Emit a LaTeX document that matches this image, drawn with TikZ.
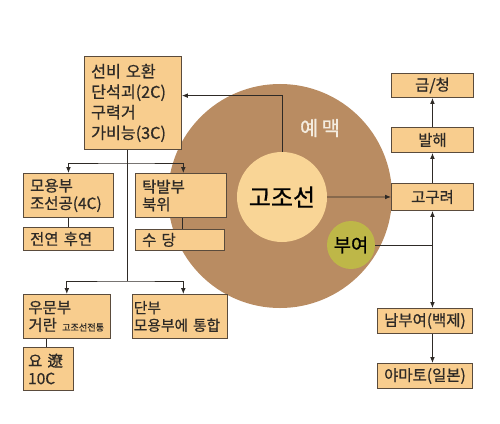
\documentclass[tikz,border=0pt]{standalone}
\usepackage{fontspec}
\setmainfont{Noto Sans CJK KR}[FakeBold=0.7]
\usetikzlibrary{arrows.meta, calc}
\definecolor{boxfill}{HTML}{F8CD8E}
\definecolor{boxline}{HTML}{5A4B3C}
\definecolor{wirecol}{HTML}{2E2A26}
\definecolor{yemaekfill}{HTML}{B98C62}
\definecolor{gojofill}{HTML}{F9D596}
\definecolor{buyeofill}{HTML}{BEB748}
\definecolor{yemaektext}{HTML}{F4ECDF}
\tikzset{
    box/.style={draw=boxline, fill=boxfill, line width=0.8pt, inner sep=0pt, anchor=north west,
        text=wirecol, font=\fontsize{13.2pt}{15pt}\selectfont},
    cbox/.style 2 args={box, minimum width=#1, minimum height=#2},
    lbox/.style 2 args={box, inner xsep=0.2cm, text width=#1, minimum height=#2, align=left},
    wire/.style={draw=wirecol, line width=0.8pt},
    arr/.style={wire, -{Latex[length=5pt,width=4pt]}},
    darr/.style={wire, {Latex[length=5pt,width=4pt]}-{Latex[length=5pt,width=4pt]}},
}
\begin{document}
\begin{tikzpicture}[x=0.03cm, y=-0.03cm]
        \useasboundingbox (0,0) rectangle (500,424);
        \node[circle, fill=yemaekfill, minimum size=6.72cm, inner sep=0pt] (yemaek) at (280,196) {};
        \node[text=yemaektext, font=\fontsize{17pt}{17pt}\selectfont] (yemaeklabel) at (320,128) {예\,맥};
        \node[circle, fill=gojofill, minimum size=2.7cm, inner sep=0pt, font=\fontsize{20.5pt}{20pt}\selectfont] (gojoseon) at (282,197) {고조선};
        \node[circle, fill=buyeofill, minimum size=1.44cm, inner sep=0pt, font=\fontsize{16pt}{16pt}\selectfont] (buyeo) at (351,245) {부여};
        %
        \node[lbox={2.51cm}{2.79cm}, font=\fontsize{13pt}{17.5pt}\selectfont] (seonbi) at (84,56) {\fontsize{13.8pt}{17.5pt}\selectfont 선비 오환\\단석괴(2C)\\구력거\\가비능(3C)};
        \node[lbox={2.3cm}{1.32cm}] (moyong) at (23,173) {모용부\\조선공(4C)};
        \node[lbox={2.3cm}{0.69cm}] (jeonyeon) at (23,227) {전연 후연};
        \node[lbox={2.33cm}{1.32cm}] (takbal) at (135,173) {탁발부\\북위};
        \node[lbox={2.27cm}{0.63cm}] (sudang) at (135,229) {수 당};
        \node[lbox={2.3cm}{1.32cm}, inner xsep=0.15cm] (umun) at (23,294) {우문부\\거란 {\fontsize{7.8pt}{8pt}\selectfont 고조선전통}};
        \node[lbox={2.77cm}{1.32cm}, inner xsep=0.04cm, font=\fontsize{12.6pt}{15pt}\selectfont] (danbu) at (132,294) {단부\\모용부에 통합};
        \node[lbox={1.23cm}{1.29cm}, inner xsep=0.14cm] (yo) at (23,347) {요 遼\\10C};
        %
        \node[cbox={2.46cm}{0.72cm}] (geum) at (391,73) {금/청};
        \node[cbox={2.46cm}{0.75cm}] (balhae) at (391,127) {발해};
        \node[cbox={2.46cm}{0.81cm}] (goguryeo) at (391,183) {고구려};
        \node[cbox={2.85cm}{0.75cm}] (nambuyeo) at (377,308) {남부여(백제)};
        \node[cbox={2.85cm}{0.75cm}] (yamato) at (377,363) {야마토(일본)};
        %
        \coordinate (split1) at (127,163);
        \coordinate (split2) at (127,281);
        \draw[arr] (gojoseon.north) |- ([yshift=0.22cm]seonbi.east);
        \draw[wire] (seonbi.south -| split1) -- (split2);
        \draw[darr] (moyong.north) |- (split1) -| ([xshift=0.07cm]takbal.north);
        \draw[darr] (umun.north) |- (split2) -| ([xshift=0.1cm]danbu.north);
        \draw[wire] (moyong.south) -- (jeonyeon.north);
        \draw[wire] ([xshift=0.05cm]takbal.south) -- ([xshift=0.05cm]takbal.south |- sudang.north);
        \draw[wire] ([xshift=-0.6cm]umun.south) -- ([xshift=-0.6cm]umun.south |- yo.north);
        %
        \draw[arr] (gojoseon.east) -- (goguryeo.west);
        \draw[arr] (goguryeo.north) -- (balhae.south);
        \draw[arr] (balhae.north) -- (geum.south);
        \draw[wire] (buyeo.east) -- (buyeo.east -| goguryeo.south);
        \draw[darr] (goguryeo.south) -- (goguryeo.south |- nambuyeo.north);
        \draw[arr] (nambuyeo.south -| goguryeo.south) -- (yamato.north -| goguryeo.south);
    \end{tikzpicture}
\end{document}
